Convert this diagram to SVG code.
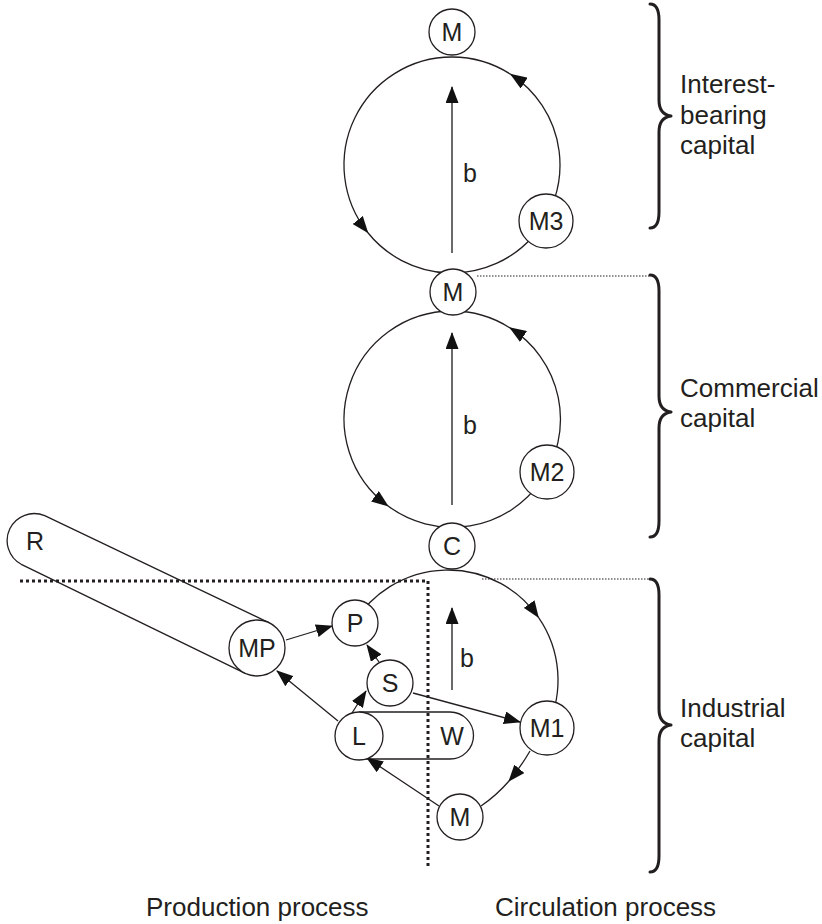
<svg xmlns="http://www.w3.org/2000/svg" width="822" height="924" viewBox="0 0 822 924">
<style>
text{font-family:"Liberation Sans",Arial,Helvetica,sans-serif;fill:#231f20}
.lbl{font-size:25px;text-anchor:middle}
.side{font-size:26px}
.bot{font-size:26px}
.node{fill:#fff;stroke:#231f20;stroke-width:1.3}
.ring{fill:none;stroke:#231f20;stroke-width:1.3}
.arr{fill:none;stroke:#231f20;stroke-width:1.3;marker-end:url(#ah)}
.barr{fill:none;stroke:#444;stroke-width:1.6;marker-end:url(#ah)}
.thin{fill:none;stroke:#231f20;stroke-width:1;stroke-dasharray:1.5 1.5}
.bold{fill:none;stroke:#231f20;stroke-width:3;stroke-dasharray:3 3}
.brace{fill:none;stroke:#231f20;stroke-width:3;stroke-linecap:round;stroke-linejoin:round}
</style>
<defs>
<marker id="ah" markerWidth="17" markerHeight="13" refX="16" refY="6.5" orient="auto" markerUnits="userSpaceOnUse">
<path d="M0,0 L17,6.5 L0,13 z" fill="#111"/>
</marker>
</defs>

<g id="dividers">
<path class="thin" d="M477,276 H650"/>
<path class="thin" d="M482,579 H650"/>
<path class="bold" d="M20,581 H428 V867"/>
</g>

<g id="connectors">
<path class="arr" d="M452,57 A108,108 0 0 0 367.7,232.5"/>
<path class="arr" d="M367.7,232.5 A108,108 0 1 0 510.8,74.4"/>
<path class="ring" d="M510.8,74.4 A108,108 0 0 0 452,57"/>
<path class="arr" d="M452,311 A108,108 0 0 0 387.8,505.8"/>
<path class="arr" d="M387.8,505.8 A108,108 0 1 0 510,327.9"/>
<path class="ring" d="M510,327.9 A108,108 0 0 0 452,311"/>
<path class="arr" d="M354.2,622.5 A110,110 0 0 1 538.3,617.2"/>
<path class="ring" d="M538.3,617.2 A110,110 0 0 1 547,728"/>
<path class="arr" d="M530,751 Q520,768 509,781"/>
<path class="ring" d="M509,781 Q497,795 481,806"/>
<path class="barr" d="M452,253 V87"/>
<path class="barr" d="M452,505 V333"/>
<path class="barr" d="M452,690 V608"/>
<path class="ring" d="M269.2,622.8 L44.7,515.7 A27,27 0 0 0 21.3,564.3 L244.8,673.2"/>
<path class="ring" d="M359,712 H450 A23.5,23.5 0 0 1 450,759 H359"/>
<path class="arr" d="M286,640 L332,626"/>
<path class="arr" d="M379,662 L367,645"/>
<path class="arr" d="M352,713 L366,691"/>
<path class="arr" d="M338,721 L277,671"/>
<path class="arr" d="M439,806 L367,758"/>
<path class="arr" d="M413,693 L520,722"/>
</g>

<g id="node-M-top"><circle class="node" cx="452" cy="32" r="23"/><text class="lbl" x="452" y="41">M</text></g>
<g id="node-M3"><circle class="node" cx="546" cy="221" r="27"/><text class="lbl" x="546" y="230">M3</text></g>
<g id="node-M-mid"><circle class="node" cx="453" cy="292" r="23"/><text class="lbl" x="453" y="301">M</text></g>
<g id="node-M2"><circle class="node" cx="547" cy="472" r="27"/><text class="lbl" x="547" y="481">M2</text></g>
<g id="node-C"><circle class="node" cx="452" cy="546" r="23"/><text class="lbl" x="452" y="555">C</text></g>
<g id="node-R"><text class="lbl" x="35" y="550">R</text></g>
<g id="node-MP"><circle class="node" cx="257" cy="648" r="28"/><text class="lbl" x="257" y="657">MP</text></g>
<g id="node-P"><circle class="node" cx="355" cy="623" r="23"/><text class="lbl" x="355" y="632">P</text></g>
<g id="node-S"><circle class="node" cx="390" cy="683" r="23"/><text class="lbl" x="390" y="692">S</text></g>
<g id="node-L"><circle class="node" cx="359" cy="736" r="24"/><text class="lbl" x="359" y="745">L</text></g>
<g id="node-W"><text class="lbl" x="452" y="745">W</text></g>
<g id="node-M1"><circle class="node" cx="547" cy="728" r="27"/><text class="lbl" x="547" y="737">M1</text></g>
<g id="node-M-bot"><circle class="node" cx="460" cy="817" r="23"/><text class="lbl" x="460" y="826">M</text></g>

<g id="b-labels">
<text class="lbl" x="470" y="182">b</text>
<text class="lbl" x="470" y="434">b</text>
<text class="lbl" x="467" y="667">b</text>
</g>

<g id="braces">
<path class="brace" d="M650,4 C657,4 659,10 659,20 L659,100 C659,110 663,115 671,116 C663,117 659,122 659,132 L659,212 C659,222 657,228 650,228"/>
<path class="brace" d="M650,275 C657,275 659,281 659,291 L659,396 C659,406 663,411 671,412 C663,413 659,418 659,428 L659,521 C659,531 657,537 650,537"/>
<path class="brace" d="M650,579 C657,579 659,585 659,595 L659,709 C659,719 663,724 671,725 C663,726 659,731 659,741 L659,856 C659,866 657,872 650,872"/>
</g>

<g id="side-labels">
<text class="side" x="680" y="93">Interest-</text>
<text class="side" x="680" y="124">bearing</text>
<text class="side" x="680" y="154">capital</text>
<text class="side" x="680" y="397">Commercial</text>
<text class="side" x="680" y="427">capital</text>
<text class="side" x="680" y="717">Industrial</text>
<text class="side" x="680" y="747">capital</text>
</g>

<g id="bottom-labels">
<text class="bot" x="146" y="916">Production process</text>
<text class="bot" x="495" y="916">Circulation process</text>
</g>
</svg>
